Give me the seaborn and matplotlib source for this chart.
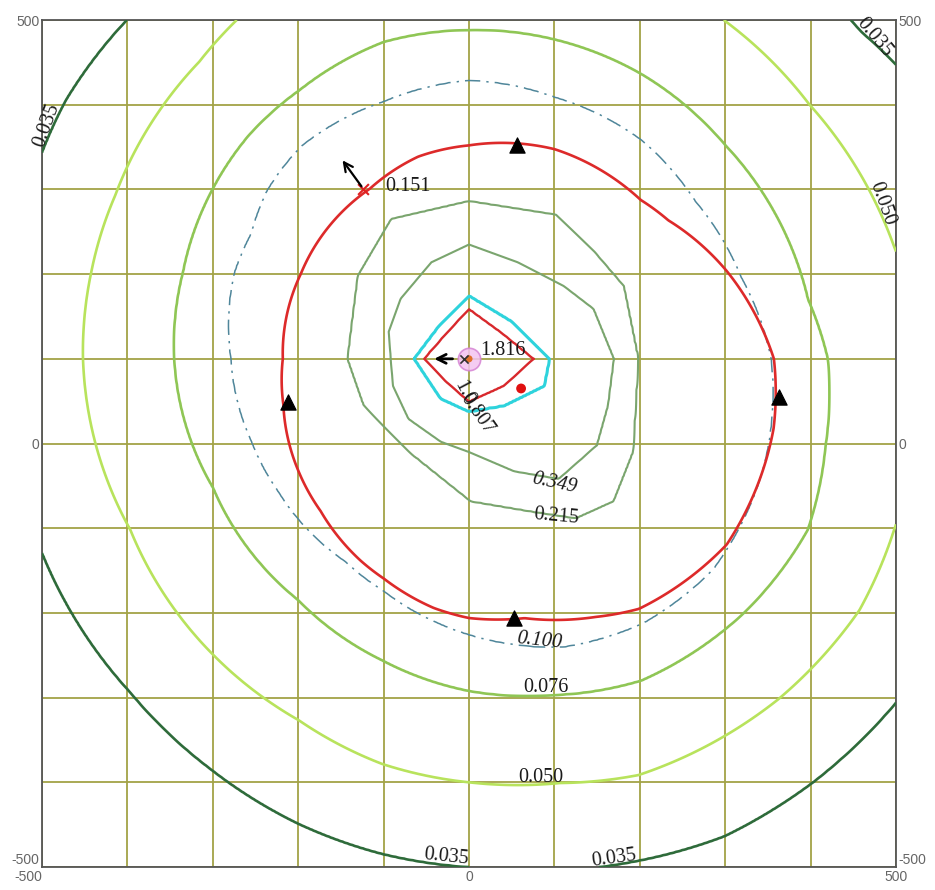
import numpy as np
import matplotlib
matplotlib.use("Agg")
import matplotlib.pyplot as plt
import seaborn as sns

# source position (centre of the rings)
src_x = [0]
src_y = [100]

# contour levels, inner -> outer
levels = [1.0, 0.807, 0.349, 0.215, 0.100, 0.076, 0.050, 0.035]
peak_value = 1.816

# inner rings are polygons (grid contours): vertices
vx_1000 = [76, 38, 0, -26, -53, -27, 0, 41]
vy_1000 = [100, 131, 159, 131, 100, 73, 49, 68]

vx_0807 = [94, 51, 0, -33, -64, -33, 0, 41, 88]
vy_0807 = [100, 143, 174, 141, 100, 53, 38, 45, 68]

vx_0349 = [170, 146, 111, 57, 0, -44, -80, -94, -89, -71, -33, 0, 53, 105, 150, 163]
vy_0349 = [100, 159, 186, 214, 235, 214, 171, 132, 68, 29, 2, -10, -33, -42, -2, 45]

vx_0215 = [198, 181, 147, 102, 0, -91, -130, -142, -123, -71, 2, 73, 125, 169, 192]
vy_0215 = [100, 186, 226, 270, 286, 265, 198, 100, 45, -9, -68, -80, -88, -68, -9]

# outer rings: radius from the source (m) read along bearings (deg from +x)
ang_0100 = [0, 17, 35, 52, 72, 90, 108, 128, 140, 150, 160, 180, 201, 215, 239, 250, 262,
            270, 288, 303, 319, 340]
rad_0100 = [354, 333, 324, 328, 325, 329, 320, 319, 309, 295, 293, 279, 273, 273, 280, 292, 312,
            326, 358, 373, 379, 368]

ang_0076 = [0, 10, 40, 59, 75, 90, 105, 122, 134, 146, 163, 180, 207, 235, 254, 270, 284,
            298, 317, 333, 346]
rad_0076 = [420, 403, 392, 392, 390, 388, 387, 374, 369, 361, 350, 345, 336, 348, 370, 392, 409,
            430, 440, 445, 430]

ang_0050 = [0, 15, 37, 53, 90, 124, 132, 155, 167, 180, 207, 229, 245, 258, 270, 282, 292,
            312, 327, 338]
rad_0050 = [530, 515, 499, 499, 495, 484, 472, 457, 454, 452, 445, 460, 471, 489, 500, 512, 530,
            541, 545, 537]

ang_0035 = [0, 40, 90, 135, 147, 154, 180, 205, 225, 238, 250, 260, 270, 288, 298, 309, 321, 340]
rad_0035 = [665, 600, 590, 566, 562, 556, 548, 550, 559, 571, 584, 593, 600, 624, 638, 642, 644, 660]

# red 0.151 line (drawn on its own, it crosses the 0.100 line)
ang_0151 = [0, 19, 35, 43, 68, 90, 104, 120, 153, 180, 194, 214, 226, 242, 249, 262, 270,
            282, 296, 304, 324, 347]
rad_0151 = [357, 319, 285, 275, 267, 252, 246, 232, 221, 218, 224, 240, 250, 270, 278, 297, 306,
            313, 339, 356, 373, 366]

# markers
tri_x = [56, -212, 363, 53]
tri_y = [352, 49, 55, -206]
dot_x = [61]
dot_y = [65]
cross_x = [-124]
cross_y = [301]

line_colors = ['#d8282c', '#2ed3dc', '#7aa56e', '#7aa56e', '#4f869a', '#8fc655', '#b8e35c', '#2e6b3a']
line_widths = [1.7, 2.2, 1.5, 1.5, 1.1, 1.9, 1.9, 1.9]

xs = np.linspace(-500, 500, 501)
ys = np.linspace(-500, 500, 501)
X, Y = np.meshgrid(xs, ys)
DX, DY = X - src_x[0], Y - src_y[0]
R = np.hypot(DX, DY)
T = np.degrees(np.arctan2(DY, DX)) % 360


def poly_radius(vx, vy):
    # distance from the source to a star-shaped polygon along every grid bearing
    px = np.asarray(vx, float) - src_x[0]
    py = np.asarray(vy, float) - src_y[0]
    a = np.degrees(np.arctan2(py, px)) % 360
    o = np.argsort(a)
    px, py, a = px[o], py[o], a[o]
    n = len(a)
    idx = np.searchsorted(a, T, side='right') - 1
    i0, i1 = idx % n, (idx + 1) % n
    ddx, ddy = px[i1] - px[i0], py[i1] - py[i0]
    th = np.radians(T)
    return (px[i0] * ddy - py[i0] * ddx) / (np.cos(th) * ddy - np.sin(th) * ddx)


def arc_radius(ang, rad):
    return np.interp(T, ang, rad, period=360)


knots = [np.zeros_like(R),
         poly_radius(vx_1000, vy_1000), poly_radius(vx_0807, vy_0807),
         poly_radius(vx_0349, vy_0349), poly_radius(vx_0215, vy_0215),
         arc_radius(ang_0100, rad_0100), arc_radius(ang_0076, rad_0076),
         arc_radius(ang_0050, rad_0050), arc_radius(ang_0035, rad_0035)]
knots.append(knots[-1] + 200)

# field in "level index" space: 0 at the source, k+1 on ring k
F = np.full_like(R, len(knots) - 1, dtype=float)
for k in range(len(knots) - 1):
    lo, hi = knots[k], knots[k + 1]
    m = (R >= lo) & (R < hi)
    F[m] = k + (R[m] - lo[m]) / (hi[m] - lo[m])

G = R / arc_radius(ang_0151, rad_0151)

sns.set_style("white")
plt.rcParams['font.family'] = ['Liberation Sans', 'DejaVu Sans']

fig = plt.figure(figsize=(9.35, 8.9), dpi=100)
ax = fig.add_axes([0.0449, 0.0258, 0.9134, 0.9517])

ax.set_xlim(-500, 500)
ax.set_ylim(-500, 500)
ticks = np.arange(-500, 501, 100)
labels = ['-500' if t == -500 else '0' if t == 0 else '500' if t == 500 else '' for t in ticks]
ax.set_xticks(ticks)
ax.set_xticklabels(labels)
ax.set_yticks(ticks)
ax.set_yticklabels(labels)
ax.tick_params(length=0, pad=2, labelsize=10, labelcolor='#666666',
               labelleft=True, labelright=True, labelbottom=True)
# keep the corner labels apart
ax.get_xticklabels()[0].set_ha('right')
first = ax.yaxis.get_major_ticks()[0]
first.label1.set_va('bottom')
first.label2.set_va('bottom')

ax.grid(True, color='#a3a347', lw=1.3)
ax.set_axisbelow(True)
for sp in ax.spines.values():
    sp.set_color('#555555')
    sp.set_linewidth(1.3)

for k in range(len(levels)):
    cs = ax.contour(X, Y, F, levels=[k + 1], colors=[line_colors[k]],
                    linewidths=[line_widths[k]], zorder=3)
    if levels[k] == 0.100:
        cs.set_linestyle((0, (10, 4, 1.5, 4)))

ax.contour(X, Y, G, levels=[1.0], colors=['#dd2a2a'], linewidths=[1.9], zorder=3)

# markers
sns.scatterplot(x=tri_x, y=tri_y, marker='^', s=120, color='black', edgecolor='black', ax=ax, zorder=6)
sns.scatterplot(x=src_x, y=src_y, marker='o', s=260, color='#f4c4f0', edgecolor='#d684d4',
                linewidth=1.2, alpha=0.85, ax=ax, zorder=6)
sns.scatterplot(x=src_x, y=src_y, marker='o', s=26, color='#e0702a', edgecolor='none', ax=ax, zorder=7)
sns.scatterplot(x=[src_x[0] - 6], y=src_y, marker='x', s=35, color='#333333', linewidth=1.2, ax=ax, zorder=7)
sns.scatterplot(x=dot_x, y=dot_y, marker='o', s=50, color='#e01010', edgecolor='none', ax=ax, zorder=6)
sns.scatterplot(x=cross_x, y=cross_y, marker='x', s=60, color='#e02020', linewidth=1.5, ax=ax, zorder=6)

ax.annotate('', xy=(-44, 100), xytext=(-16, 100),
            arrowprops=dict(arrowstyle='->', lw=2.0, color='black', mutation_scale=16), zorder=7)
ax.annotate('', xy=(-150, 337), xytext=(-124, 301),
            arrowprops=dict(arrowstyle='->', lw=1.6, color='black', mutation_scale=16), zorder=7)

# contour value labels
lab = dict(family=['Liberation Serif', 'DejaVu Serif'], fontsize=14.5, color='#1a1a1a',
           ha='center', va='center', zorder=8)
ax.text(-494, 376, '0.035', rotation=70, **lab)
ax.text(474, 480, '0.035', rotation=-50, **lab)
ax.text(484, 283, '0.050', rotation=-70, **lab)
ax.text(-27, -488, '0.035', rotation=-6, **lab)
ax.text(170, -490, '0.035', rotation=8, **lab)
ax.text(84, -394, '0.050', **lab)
ax.text(90, -288, '0.076', **lab)
ax.text(82, -233, '0.100', rotation=-6, style='italic', **lab)
ax.text(102, -86, '0.215', rotation=-5, **lab)
ax.text(100, -47, '0.349', rotation=-12, style='italic', **lab)
ax.text(9, 35, '0.807', rotation=-55, **lab)
ax.text(-6, 60, '1.0', rotation=-62, **lab)
ax.text(40, 110, '1.816', **lab)
ax.text(-72, 304, '0.151', **lab)

fig.savefig('out.png', dpi=100)
